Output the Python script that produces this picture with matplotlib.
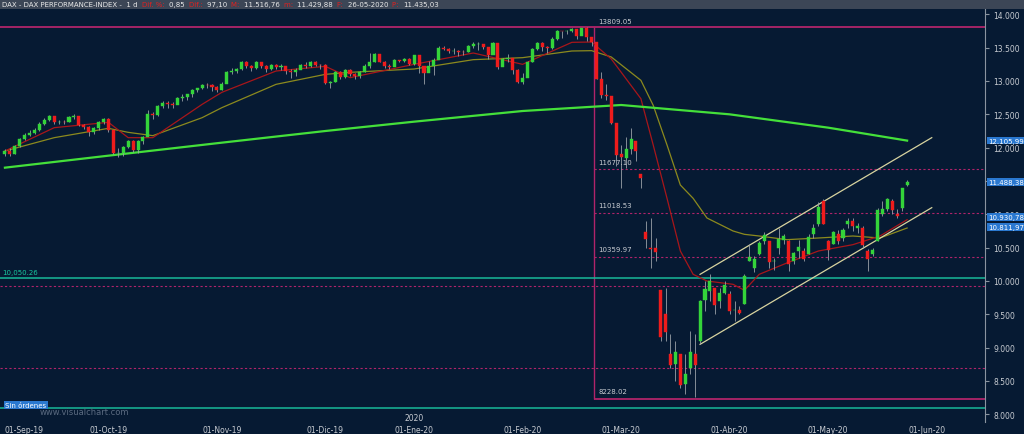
import matplotlib
matplotlib.use("Agg")
import matplotlib.pyplot as plt
import numpy as np

# ---------------- data ----------------
month_days = [21, 23, 21, 18, 22, 20, 22, 20, 17]
month_labels = ["01-Sep-19", "01-Oct-19", "01-Nov-19", "01-Dic-19", "01-Ene-20",
                "01-Feb-20", "01-Mar-20", "01-Abr-20", "01-May-20", "01-Jun-20"]

closes = [
 11953,11910,12025,12126,12192,12226,12268,12360,12410,12469,12381,12390,12389,12457,12468,12342,12307,12234,12289,12381,12428,
 12264,11925,11926,12012,12097,11970,12094,12164,12511,12486,12630,12670,12654,12633,12748,12754,12798,12872,12894,12942,12939,12910,12867,
 12961,13136,13148,13179,13289,13229,13198,13283,13230,13180,13241,13207,13221,13148,13138,13163,13246,13227,13288,13245,13236,
 12964,12989,13140,13055,13167,13105,13070,13141,13222,13283,13407,13287,13222,13212,13319,13300,13337,13249,
 13386,13219,13127,13227,13320,13495,13483,13452,13457,13432,13429,13526,13549,13556,13516,13389,13577,13205,13324,13345,13158,12982,
 13046,13282,13479,13575,13514,13494,13627,13750,13745,13745,13784,13681,13790,13665,13579,13035,12790,12775,12367,11890,
 11857,11985,12128,11944,11541,10625,10475,10438,9161,9232,8742,8939,8441,8610,8929,8742,9701,9874,10000,9633,9816,9936,
 9544,9571,9525,10075,10356,10333,10565,10697,10280,10302,10626,10676,10250,10416,10514,10337,10660,10796,11107,10862,
 10467,10730,10607,10760,10904,10825,10820,10542,10337,10465,11058,11075,11223,11066,10982,11391,11488]
highs = [
 11980,11990,12040,12150,12220,12260,12300,12380,12440,12495,12480,12420,12420,12480,12500,12470,12360,12320,12310,12400,12440,
 12440,12270,11990,12030,12110,12110,12110,12180,12560,12540,12640,12700,12700,12680,12760,12800,12810,12880,12900,12960,12970,12950,12920,
 12990,13150,13200,13200,13300,13300,13240,13300,13290,13240,13260,13260,13250,13230,13180,13200,13260,13280,13300,13300,13260,
 13260,13000,13150,13150,13180,13180,13120,13150,13250,13420,13420,13400,13300,13250,13330,13320,13350,13340,
 13390,13330,13220,13300,13340,13520,13530,13490,13490,13470,13460,13540,13580,13590,13560,13510,13590,13330,13350,13400,13300,13180,
 13120,13300,13500,13580,13580,13520,13660,13760,13750,13770,13800,13760,13800,13809,13650,13380,13130,12960,12700,12150,
 12040,12160,12300,12100,11580,10900,10950,10650,9860,9900,9200,9100,8900,8900,9250,9200,9720,10000,10100,9880,9900,10000,
 9850,9700,9620,10100,10560,10380,10600,10740,10600,10350,10800,10710,10620,10440,10620,10500,10700,10850,11180,11230,
 10620,10750,10760,10800,10950,10950,10870,10820,10480,10500,11100,11200,11250,11230,11080,11400,11516]
lows = [
 11880,11870,11900,12010,12110,12170,12200,12250,12340,12400,12360,12350,12360,12380,12430,12320,12280,12180,12210,12270,12360,
 12230,11900,11860,11880,11990,11930,11920,12060,12200,12430,12480,12600,12600,12590,12650,12700,12720,12760,12830,12880,12890,12850,12830,
 12860,13000,13100,13120,13160,13190,13150,13180,13200,13140,13170,13180,13160,13100,13050,13080,13180,13200,13210,13220,13180,
 12950,12900,12980,13030,13050,13080,13030,13050,13130,13200,13280,13280,13200,13180,13220,13280,13290,13240,
 13240,13120,12950,13150,13090,13420,13460,13420,13400,13380,13390,13430,13500,13470,13480,13330,13400,13180,13220,13280,13100,12970,
 12950,13100,13280,13460,13450,13420,13480,13620,13640,13700,13730,13630,13690,13600,13520,13030,12750,12720,12350,11720,
 11400,11700,11900,11800,11400,10500,10200,10300,9100,9100,8700,8500,8400,8300,8600,8260,9050,9550,9700,9500,9600,9800,
 9500,9400,9500,9650,10300,10130,10390,10550,10200,10170,10400,10560,10150,10250,10350,10300,10400,10650,10820,10850,
 10320,10550,10560,10600,10800,10750,10720,10500,10150,10380,10600,10980,11050,11000,10950,11050,11429]
first_open = 11900
# opens for Mar-May (gap days); earlier opens are the prior close
opens_late = [
 11900,11850,11980,12100,11600,10740,10500,10500,9860,9500,8900,8750,8900,8450,8700,8900,9100,9720,9850,9900,9700,9820,
 9800,9560,9570,9650,10300,10200,10400,10600,10600,10300,10500,10620,10600,10300,10450,10450,10400,10700,10850,11200,
 10600,10550,10700,10650,10850,10900,10800,10800,10450,10400,10600,11000,11080,11200,11000,11100,11435]

# moving averages (session index, value)
ma_pos = [0, 10, 21, 25, 30, 40, 44, 55, 65, 70, 83, 95, 105, 115, 119, 123, 129, 131.5, 134.3, 137,
          139.6, 142.4, 147.7, 150, 153, 158.6, 165, 172, 177.5, 183]
ma_red = [11950, 12300, 12380, 12150, 12150, 12650, 12830, 13150, 13220, 13050, 13250, 13420, 13250, 13580,
          13585, 13330, 12735, 12040, 11240, 10450, 10100, 10000, 9950, 9860, 10100, 10270, 10450, 10545, 10675, 10920]
ma_olive = [11950, 12150, 12290, 12230, 12180, 12450, 12600, 12950, 13100, 13130, 13180, 13320, 13350, 13450,
            13455, 13360, 13010, 12635, 12040, 11440, 11240, 10945, 10750, 10700, 10675, 10620, 10645, 10675, 10645, 10795]
ma200_pos = [0, 21, 44, 65, 83, 105, 125, 147, 167, 183]
ma200_val = [11700, 11880, 12075, 12250, 12390, 12550, 12640, 12500, 12300, 12106]

levels_from_peak = [13809.05, 11677.10, 11018.53, 10359.97, 8228.02]
dashed_full = [9920, 8700]
teal_levels = [10050.26, 8090]
chan_x = [141, 188]
chan_upper = [10100, 12150]
chan_lower = [9050, 11100]
right_tags = [12105.99, 11488.38, 10960.0, 10811.97]
right_tag_text = ["12.105,99", "11.488,38", "10.930,78", "10.811,97"]

# ---------------- figure ----------------
BG = "#061a33"
W, H = 1024, 435
fig = plt.figure(figsize=(W/100, H/100), dpi=100, facecolor=BG)
ax = fig.add_axes([0, 12/H, 985/W, 413/H], facecolor=BG)

n = len(closes)
x = np.arange(n)
c = np.array(closes, float)
o = np.concatenate([[first_open], c[:-1]])
o[n-len(opens_late):] = opens_late
h = np.array(highs, float); l = np.array(lows, float)

ax.plot(ma_pos, ma_olive, color="#8c8a1e", lw=0.9, zorder=2)
ax.plot(ma_pos, ma_red, color="#a8161a", lw=0.9, zorder=2)
ax.plot(ma200_pos, ma200_val, color="#44e03a", lw=1.6, zorder=2)

up = c >= o
ax.vlines(x, l, h, color="#9aa0a8", lw=0.6, zorder=3)
ax.bar(x[up], (c-o)[up], bottom=o[up], width=0.62, color="#34d43a", edgecolor="#34d43a", lw=0.3, zorder=4)
ax.bar(x[~up], (o-c)[~up], bottom=c[~up], width=0.62, color="#ee1c1c", edgecolor="#ee1c1c", lw=0.3, zorder=4)

xl = (-1, 198.8)
ax.set_xlim(*xl)
ax.set_ylim(7885, 14080)
peak_x = 119.5
mag = "#b0246a"
ax.hlines(levels_from_peak[0], xl[0], xl[1], color=mag, lw=1.3, zorder=1)
ax.hlines(levels_from_peak[-1], peak_x, xl[1], color=mag, lw=1.3, zorder=1)
ax.vlines(peak_x, levels_from_peak[-1], levels_from_peak[0], color=mag, lw=1.0, zorder=1)
for v in levels_from_peak[1:-1]:
    ax.hlines(v, peak_x, xl[1], color=mag, lw=0.8, linestyles=(0, (2, 2)), zorder=1)
for v in dashed_full:
    ax.hlines(v, xl[0], xl[1], color=mag, lw=0.8, linestyles=(0, (2, 2)), zorder=1)
for v in teal_levels:
    ax.hlines(v, xl[0], xl[1], color="#18b89a", lw=1.1, zorder=1)
for v in levels_from_peak:
    ax.text(peak_x+0.8, v+40 if v == levels_from_peak[0] else v+70, f"{v:.2f}",
            color="#c8ccd2", fontsize=5, va="bottom")
ax.text(-0.6, teal_levels[0]+60, "10,050.26", color="#18c8a0", fontsize=5)

ax.plot(chan_x, chan_upper, color="#d8d4a0", lw=0.9, zorder=2)
ax.plot(chan_x, chan_lower, color="#d8d4a0", lw=0.9, zorder=2)

for sp in ["top", "left", "bottom"]:
    ax.spines[sp].set_visible(False)
ax.spines["right"].set_color("#8a94a0")
ax.yaxis.tick_right()
yt = np.arange(8000, 14001, 500)
ax.set_yticks(yt)
ax.set_yticklabels([f"{v/1000:.3f}" for v in yt], fontsize=5.5, color="#c8ccd2")
ax.tick_params(axis="y", length=3, color="#8a94a0", pad=3)
starts = list(np.cumsum([0] + month_days[:-1])) + [n-1+4]
ax.set_xticks(starts)
ax.set_xticklabels(month_labels, fontsize=5.5, color="#c8ccd2")
ax.xaxis.get_majorticklabels()[0].set_horizontalalignment("left")
ax.tick_params(axis="x", length=0, pad=2)
ax.text(starts[4], 7920, "2020", fontsize=5.5, color="#c8ccd2", ha="center")

for v, t in zip(right_tags, right_tag_text):
    fig.text(988/W, (ax.transData.transform((0, v))[1])/H, t, fontsize=5, color="white",
             va="center", ha="left", bbox=dict(boxstyle="square,pad=0.12", fc="#2a78d0", ec="none"))

fig.text(5/W, 27/H, "Sin órdenes", fontsize=5, color="white",
         bbox=dict(boxstyle="square,pad=0.2", fc="#2a78d0", ec="none"))
fig.text(40/W, 20/H, "www.visualchart.com", fontsize=6, color="#5a6a80")

fig.patches.append(plt.Rectangle((0, 1-10/H), 1, 10/H, transform=fig.transFigure, fc="#3c4656", ec="none"))
parts = [("DAX - DAX PERFORMANCE-INDEX -  1 d ", "#e8e8e8"), ("Dif. %: ", "#e02020"), ("0,85 ", "#e8e8e8"),
         ("Dif.: ", "#e02020"), ("97,10 ", "#e8e8e8"), ("M: ", "#e02020"), ("11.516,76 ", "#e8e8e8"),
         ("m: ", "#e02020"), ("11.429,88 ", "#e8e8e8"), ("F: ", "#e02020"), ("26-05-2020 ", "#e8e8e8"),
         ("P: ", "#e02020"), ("11.435,03", "#e8e8e8")]
fig.canvas.draw()
r = fig.canvas.get_renderer()
xp = 2
for t, col in parts:
    tt = fig.text(xp/W, 1-5/H, t, fontsize=5, color=col, va="center")
    xp += tt.get_window_extent(r).width + 2

fig.savefig("out.png", dpi=100, facecolor=BG)
